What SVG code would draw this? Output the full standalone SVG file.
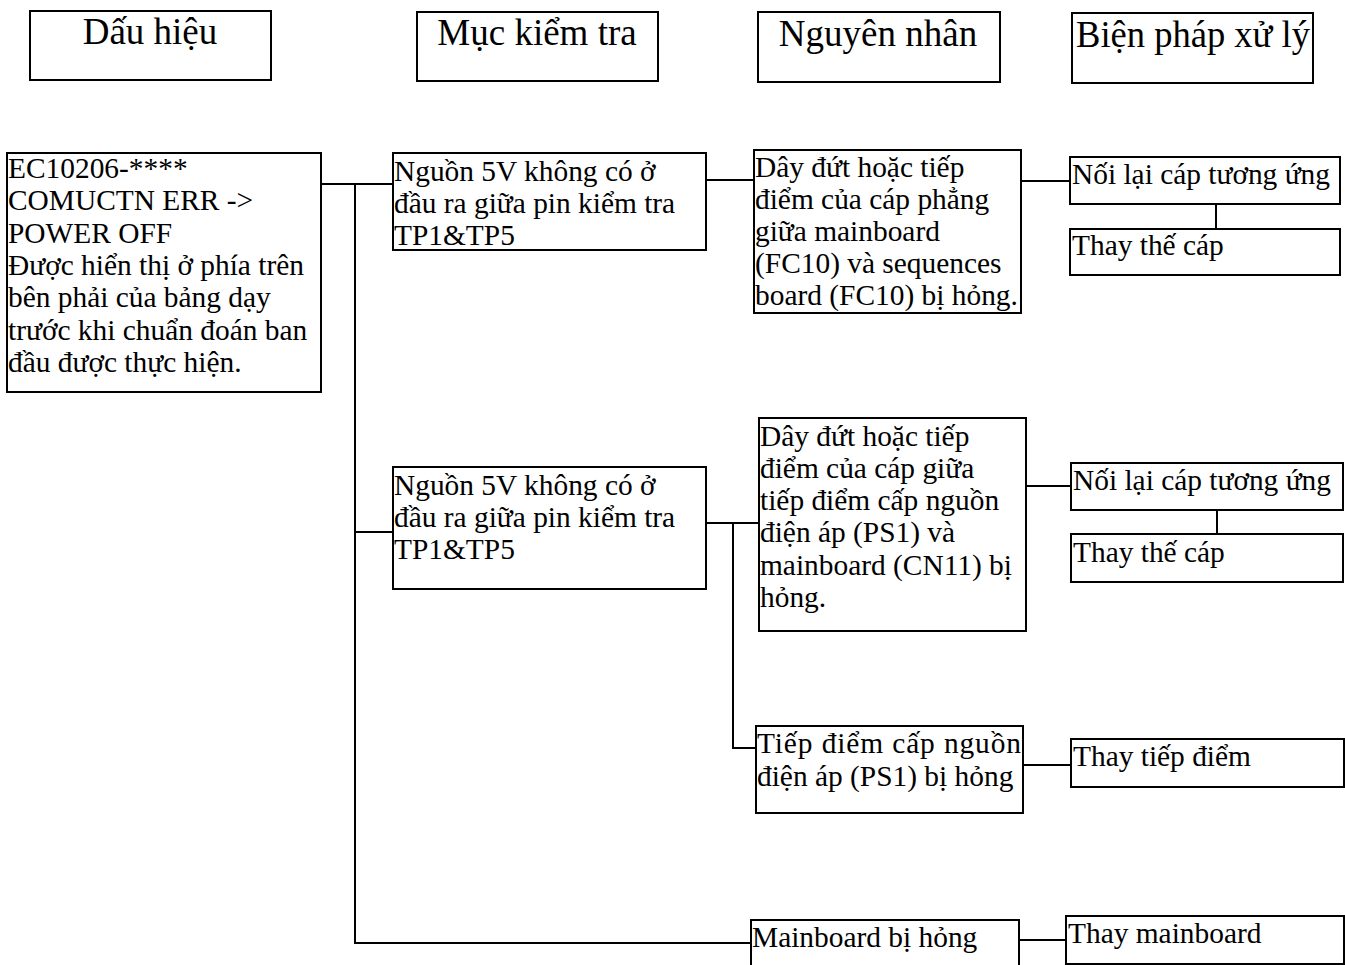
<svg xmlns="http://www.w3.org/2000/svg" width="1345" height="965" viewBox="0 0 1345 965">
<style>
.box{fill:#fff;stroke:#000;stroke-width:2}
.hd{font-family:"Liberation Serif","Times New Roman",serif;font-size:37px;fill:#000}
.t{font-family:"Liberation Serif","Times New Roman",serif;font-size:29.4px;fill:#000}
.c{fill:none;stroke:#000;stroke-width:2}
</style>
<rect width="1345" height="965" fill="#fff"/>
<g id="connectors">
<path class="c" d="M321 184 H393"/>
<path class="c" d="M355 184 V943 H751"/>
<path class="c" d="M355 532 H393"/>
<path class="c" d="M706 180 H754"/>
<path class="c" d="M1021 181 H1070"/>
<path class="c" d="M1216 204 V229"/>
<path class="c" d="M706 523 H759"/>
<path class="c" d="M733 523 V748 H756"/>
<path class="c" d="M1026 486 H1071"/>
<path class="c" d="M1217 510 V534"/>
<path class="c" d="M1023 765 H1071"/>
<path class="c" d="M1019 940 H1066"/>
</g>
<g id="h1"><rect class="box" x="30" y="11" width="241" height="69"/><text class="hd" x="150" y="44" text-anchor="middle">Dấu hiệu</text></g>
<g id="h2"><rect class="box" x="417" y="12" width="241" height="69"/><text class="hd" x="537" y="45" text-anchor="middle">Mục kiểm tra</text></g>
<g id="h3"><rect class="box" x="758" y="12" width="242" height="70"/><text class="hd" x="878" y="46" text-anchor="middle">Nguyên nhân</text></g>
<g id="h4"><rect class="box" x="1072" y="13" width="241" height="70"/><text class="hd" x="1076" y="47" textLength="234" lengthAdjust="spacingAndGlyphs">Biện pháp xử lý</text></g>
<g id="symptom"><rect class="box" x="7" y="153" width="314" height="239"/>
<text class="t" x="8" y="178">EC10206-****</text>
<text class="t" x="8" y="210">COMUCTN ERR -&gt;</text>
<text class="t" x="8" y="243">POWER OFF</text>
<text class="t" x="8" y="275">Được hiển thị ở phía trên</text>
<text class="t" x="8" y="307">bên phải của bảng dạy</text>
<text class="t" x="8" y="340">trước khi chuẩn đoán ban</text>
<text class="t" x="8" y="372">đầu được thực hiện.</text>
</g>
<g id="check1"><rect class="box" x="393" y="153" width="313" height="97"/>
<text class="t" x="394" y="181">Nguồn 5V không có ở</text>
<text class="t" x="394" y="213">đầu ra giữa pin kiểm tra</text>
<text class="t" x="394" y="245">TP1&amp;TP5</text>
</g>
<g id="check2"><rect class="box" x="393" y="467" width="313" height="122"/>
<text class="t" x="394" y="495">Nguồn 5V không có ở</text>
<text class="t" x="394" y="527">đầu ra giữa pin kiểm tra</text>
<text class="t" x="394" y="559">TP1&amp;TP5</text>
</g>
<g id="cause1"><rect class="box" x="754" y="150" width="267" height="163"/>
<text class="t" x="755" y="177">Dây đứt hoặc tiếp</text>
<text class="t" x="755" y="209">điểm của cáp phẳng</text>
<text class="t" x="755" y="241">giữa mainboard</text>
<text class="t" x="755" y="273">(FC10) và sequences</text>
<text class="t" x="755" y="305">board (FC10) bị hỏng.</text>
</g>
<g id="cause2"><rect class="box" x="759" y="418" width="267" height="213"/>
<text class="t" x="760" y="446">Dây đứt hoặc tiếp</text>
<text class="t" x="760" y="478">điểm của cáp giữa</text>
<text class="t" x="760" y="510">tiếp điểm cấp nguồn</text>
<text class="t" x="760" y="542">điện áp (PS1) và</text>
<text class="t" x="760" y="575">mainboard (CN11) bị</text>
<text class="t" x="760" y="607">hỏng.</text>
</g>
<g id="cause3"><rect class="box" x="756" y="726" width="267" height="87"/>
<text class="t" x="757" y="753" textLength="264" lengthAdjust="spacing">Tiếp điểm cấp nguồn</text>
<text class="t" x="757" y="786">điện áp (PS1) bị hỏng</text>
</g>
<g id="cause4"><rect class="box" x="751" y="920" width="268" height="50"/>
<text class="t" x="752" y="947">Mainboard bị hỏng</text>
</g>
<g id="rem1a"><rect class="box" x="1070" y="157" width="270" height="47"/><text class="t" x="1072" y="184">Nối lại cáp tương ứng</text></g>
<g id="rem1b"><rect class="box" x="1070" y="229" width="270" height="46"/><text class="t" x="1072" y="255">Thay thế cáp</text></g>
<g id="rem2a"><rect class="box" x="1071" y="463" width="272" height="47"/><text class="t" x="1073" y="490">Nối lại cáp tương ứng</text></g>
<g id="rem2b"><rect class="box" x="1071" y="534" width="272" height="48"/><text class="t" x="1073" y="562">Thay thế cáp</text></g>
<g id="rem3"><rect class="box" x="1071" y="739" width="273" height="48"/><text class="t" x="1073" y="766">Thay tiếp điểm</text></g>
<g id="rem4"><rect class="box" x="1066" y="916" width="278" height="48"/><text class="t" x="1068" y="943">Thay mainboard</text></g>
</svg>
